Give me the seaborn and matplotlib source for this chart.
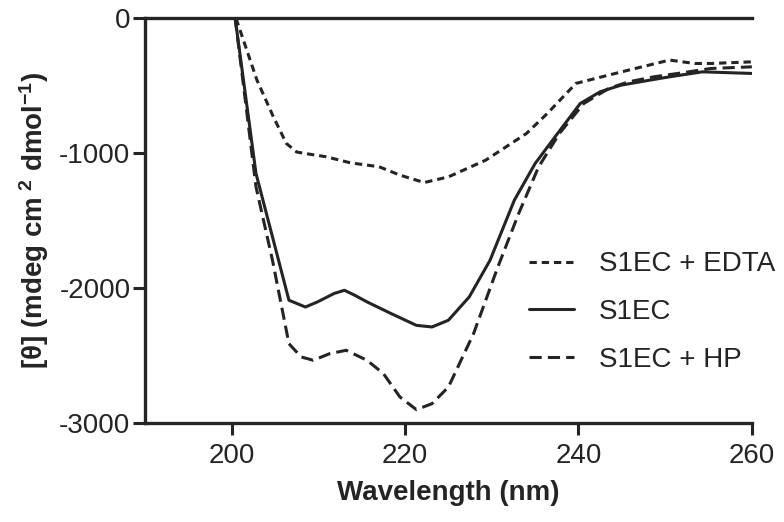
import numpy as np
import pandas as pd
import seaborn as sns
from matplotlib import pyplot as plt

# CD spectra
wl_edta = [200.5, 202.9, 204.8, 206.3, 207.5, 209.0, 210.9, 213.7, 217.0, 219.4, 222.2,
           225.0, 229.3, 234.0, 236.4, 239.7, 243.5, 245.8, 250.5, 253.4, 255.3, 260.0]
cd_edta = [0, -456, -729, -927, -991, -1007, -1026, -1071, -1100, -1162, -1217,
           -1175, -1051, -853, -705, -482, -420, -383, -309, -334, -334, -322]

wl_s1ec = [200.4, 202.8, 204.2, 206.6, 208.5, 209.9, 211.8, 213.0, 214.2, 215.6,
           218.4, 221.3, 223.1, 225.0, 227.4, 229.8, 232.6, 235.0, 237.3, 240.2,
           242.5, 244.9, 248.2, 250.5, 254.3, 260.0]
cd_s1ec = [0, -1150, -1496, -2090, -2140, -2102, -2040, -2016, -2053, -2102,
           -2189, -2276, -2288, -2238, -2065, -1793, -1348, -1076, -878, -631,
           -544, -495, -458, -433, -396, -408]

wl_hp = [200.4, 202.8, 204.7, 206.6, 208.0, 209.4, 211.3, 213.2, 215.6, 217.5,
         219.4, 221.3, 223.1, 225.0, 227.9, 230.7, 233.1, 235.4, 237.8, 240.6,
         243.5, 245.8, 248.7, 252.0, 255.3, 260.0]
cd_hp = [0, -1249, -1793, -2412, -2510, -2535, -2486, -2461, -2535, -2634,
         -2807, -2901, -2857, -2733, -2337, -1843, -1447, -1101, -853, -631,
         -519, -470, -433, -403, -371, -359]

labels = ['S1EC + EDTA', 'S1EC', 'S1EC + HP']

df = pd.concat([
    pd.DataFrame({'wl': wl_edta, 'cd': cd_edta, 'sample': labels[0]}),
    pd.DataFrame({'wl': wl_s1ec, 'cd': cd_s1ec, 'sample': labels[1]}),
    pd.DataFrame({'wl': wl_hp, 'cd': cd_hp, 'sample': labels[2]}),
])

ink = '#242424'
sns.set_style('ticks')
plt.rcParams['font.family'] = ['Liberation Sans', 'DejaVu Sans']
plt.rcParams['axes.unicode_minus'] = False
plt.rcParams['mathtext.fontset'] = 'custom'
plt.rcParams['mathtext.rm'] = 'Liberation Sans:bold'
plt.rcParams['mathtext.default'] = 'rm'

fig = plt.figure(figsize=(7.84, 5.22), dpi=100)
ax = fig.add_axes([0.185, 0.1897, 0.774, 0.775])

sns.lineplot(data=df, x='wl', y='cd', hue='sample', style='sample',
             hue_order=labels, style_order=labels,
             palette={l: ink for l in labels},
             dashes={labels[0]: (2.4, 1.6), labels[1]: '', labels[2]: (4, 2)},
             linewidth=2.2, sort=False, estimator=None, ax=ax)

ax.set_xlim(190, 260)
ax.set_ylim(-3000, 0)
ax.set_xticks([200, 220, 240, 260])
ax.set_yticks([0, -1000, -2000, -3000])

for side in ['left', 'bottom', 'top']:
    ax.spines[side].set_linewidth(2.4)
    ax.spines[side].set_color(ink)
    ax.spines[side].set_zorder(1)
ax.spines['right'].set_visible(False)

ax.tick_params(axis='both', length=8.5, width=2.2, color=ink, labelcolor=ink,
               labelsize=20, top=False, right=False)
ax.tick_params(axis='x', pad=6)
ax.tick_params(axis='y', pad=2)

ax.set_xlabel('Wavelength (nm)', fontsize=20, fontweight='bold', color=ink, labelpad=8)
ax.set_ylabel(r'[θ] (mdeg cm$^{\ 2}$ dmol$^{-1}$)', fontsize=20, fontweight='bold',
              color=ink, labelpad=6)

ax.legend(frameon=False, loc='center left', bbox_to_anchor=(0.633, 0.274),
          borderpad=0, borderaxespad=0, fontsize=20, handlelength=1.6,
          handletextpad=0.9, labelspacing=0.78, labelcolor=ink)

fig.savefig('out.png', dpi=100)
